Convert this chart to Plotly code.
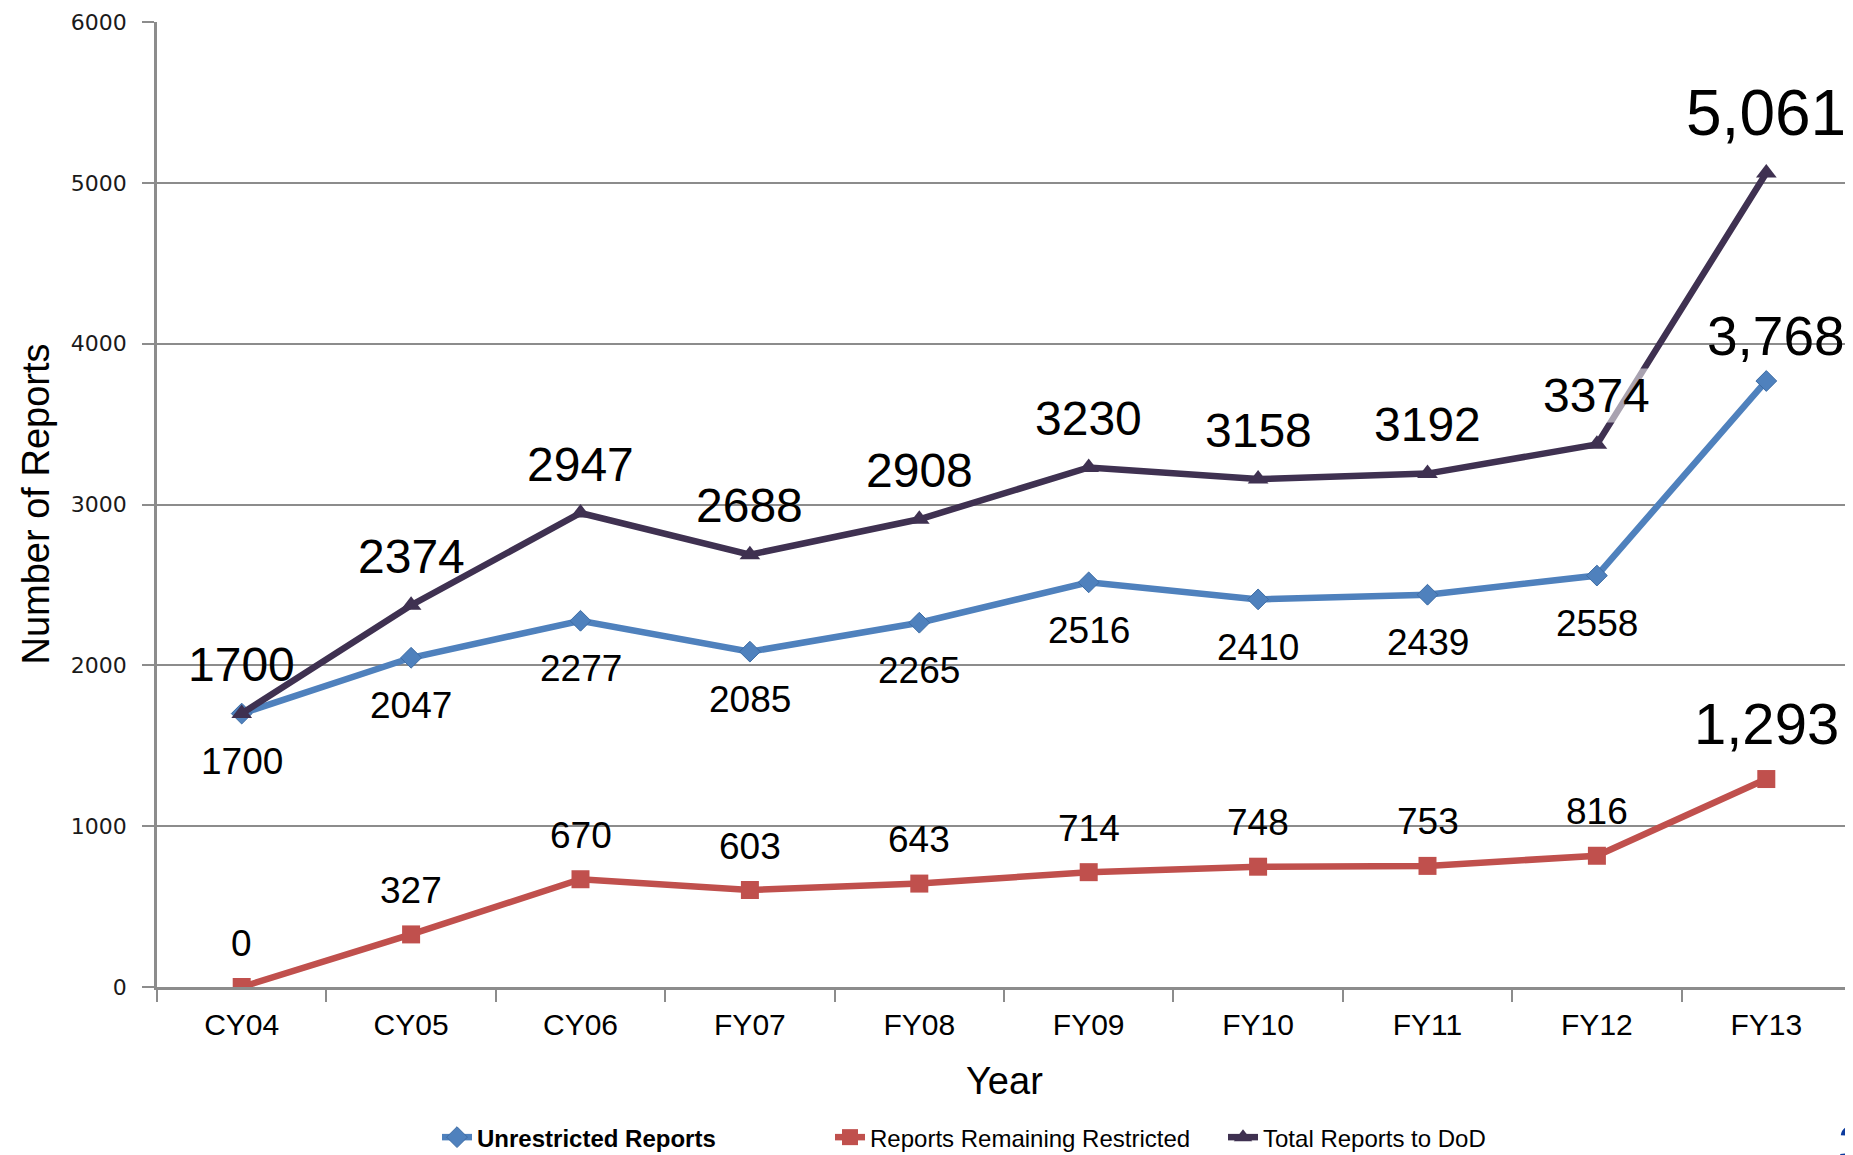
import plotly.graph_objects as go

categories = ["CY04", "CY05", "CY06", "FY07", "FY08", "FY09", "FY10", "FY11", "FY12", "FY13"]
unrestricted = [1700, 2047, 2277, 2085, 2265, 2516, 2410, 2439, 2558, 3768]
restricted = [0, 327, 670, 603, 643, 714, 748, 753, 816, 1293]
total = [1700, 2374, 2947, 2688, 2908, 3230, 3158, 3192, 3374, 5061]
y_ticks = [0, 1000, 2000, 3000, 4000, 5000, 6000]

FONT = "Liberation Sans, Arial, sans-serif"
BLUE = "#4F81BD"
RED = "#C0504D"
PURPLE = "#3F3151"
GRID = "#8C8C8C"

fig = go.Figure()
fig.add_trace(go.Scatter(
    x=categories, y=unrestricted, mode="lines+markers", name="<b>Unrestricted Reports</b>",
    line=dict(color=BLUE, width=6.5),
    marker=dict(symbol="diamond", size=16, color=BLUE, line=dict(color="#3E6DA5", width=1)),
))
fig.add_trace(go.Scatter(
    x=categories, y=restricted, mode="lines+markers", name="Reports Remaining Restricted",
    line=dict(color=RED, width=6.5),
    marker=dict(symbol="square", size=18, color=RED),
))
fig.add_trace(go.Scatter(
    x=categories, y=total, mode="lines+markers", name="Total Reports to DoD",
    line=dict(color=PURPLE, width=6.5),
    marker=dict(symbol="triangle-up", size=18, color=PURPLE),
))

annotations = []
n = len(categories)
for i, c in enumerate(categories):
    last = i == n - 1
    # total labels above
    annotations.append(dict(
        x=c, y=total[i], xref="x", yref="y", text=(f"{total[i]:,}" if last else str(total[i])),
        showarrow=False, yanchor="middle", xanchor="center",
        yshift=(60 if last else 49), font=dict(family=FONT, size=(64 if last else 48), color="black"),
        bgcolor=("rgba(255,255,255,0.55)" if i == n - 2 else None), borderpad=0,
    ))
    # unrestricted labels below (last one above)
    annotations.append(dict(
        x=c, y=unrestricted[i], xref="x", yref="y", text=(f"{unrestricted[i]:,}" if last else str(unrestricted[i])),
        showarrow=False, yanchor="middle", xanchor="center",
        yshift=(45 if last else -48), xshift=(10 if last else 0),
        font=dict(family=FONT, size=(55 if last else 37), color="black"),
    ))
    # restricted labels above
    annotations.append(dict(
        x=c, y=restricted[i], xref="x", yref="y", text=(f"{restricted[i]:,}" if last else str(restricted[i])),
        showarrow=False, yanchor="middle", xanchor="center",
        yshift=(56 if last else 44),
        font=dict(family=FONT, size=(58 if last else 37), color="black"),
    ))

# axis titles
annotations.append(dict(
    text="Number of Reports", xref="paper", yref="paper", x=0, y=0.5, xshift=-122,
    xanchor="center", yanchor="middle", textangle=-90, showarrow=False,
    font=dict(family=FONT, size=38, color="black"),
))
annotations.append(dict(
    text="Year", xref="paper", yref="paper", x=0.5, y=0, yshift=-94,
    xanchor="center", yanchor="middle", showarrow=False,
    font=dict(family=FONT, size=38, color="black"),
))
# slide page number (cut at edge, as in the source slide)
annotations.append(dict(
    text="3", xref="paper", yref="paper", x=1, y=0, xshift=-15, yshift=-124,
    xanchor="left", yanchor="top", showarrow=False,
    font=dict(family=FONT, size=56, color="#0D3B9E"),
))

fig.update_layout(
    width=1845, height=1147,
    margin=dict(l=149, r=2, t=14, b=168, autoexpand=False),
    paper_bgcolor="white", plot_bgcolor="white",
    showlegend=True,
    legend=dict(
        orientation="h", x=0.1653, xanchor="left", y=-0.156, yanchor="middle",
        font=dict(family=FONT, size=24, color="black"),
        entrywidth=348, entrywidthmode="pixels",
    ),
    annotations=annotations,
    xaxis=dict(
        type="category", range=[-0.5, n - 0.5], showgrid=False, automargin=False,
        showline=True, linecolor=GRID, linewidth=2.5,
        ticks="outside", ticklen=12, tickcolor=GRID, tickwidth=2, tickson="boundaries",
        tickfont=dict(family=FONT, size=30, color="black"), ticklabelstandoff=9,
    ),
    yaxis=dict(
        range=[0, 6000], tickvals=y_ticks, showgrid=True, gridcolor=GRID, gridwidth=2,
        showline=True, linecolor=GRID, linewidth=2.5, zeroline=False, automargin=False,
        ticks="outside", ticklen=12, tickcolor=GRID, tickwidth=2,
        tickfont=dict(family="DejaVu Sans", size=22, color="#1a1a1a"),
        ticklabelstandoff=11,
    ),
)

fig.write_html("out.html")
